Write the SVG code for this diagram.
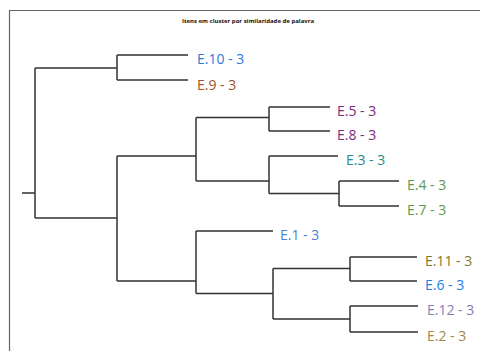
<svg xmlns="http://www.w3.org/2000/svg" width="480" height="351" viewBox="0 0 480 351">
<style>
.frame{fill:none;stroke:#666;stroke-width:1.2}
.ln{fill:none;stroke:#333;stroke-width:1.5}
.lbl{font-family:"Open Sans","Noto Sans",sans-serif;font-size:14px}
.title{font-family:"Open Sans","Liberation Sans",sans-serif;font-size:6px;font-weight:bold;fill:#111}
</style>
<rect width="480" height="351" fill="#fff"/>
<path class="frame" d="M9.5,351 V10.5 H480"/>
<text class="title" x="248" y="23" text-anchor="middle">Itens em cluster por similaridade de palavra</text>
<g id="connectors">
<path class="ln" d="M22,193 H35 M35,68 V218 M35,68 H117 M117,55 V80 M117,55 H188 M117,80 H188"/>
<path class="ln" d="M35,218 H117 M117,156 V281 M117,156 H196 M196,117.5 V181 M196,117.5 H269 M269,107 V131 M269,107 H330 M269,131 H330"/>
<path class="ln" d="M196,181 H269 M269,156 V193.5 M269,156 H338 M269,193.5 H339 M339,181 V206 M339,181 H399 M339,206 H399"/>
<path class="ln" d="M117,281 H196 M196,231 V293.5 M196,231 H273 M196,293.5 H273 M273,268.5 V319 M273,268.5 H350 M273,319 H350"/>
<path class="ln" d="M350,257 V281 M350,257 H417 M350,281 H417 M350,306 V332 M350,306 H418 M350,332 H418"/>
</g>
<g id="n-e10"><text class="lbl" x="197" y="64" fill="#2a7ad8">E.10 - 3</text></g>
<g id="n-e9"><text class="lbl" x="197" y="90" fill="#a0522d">E.9 - 3</text></g>
<g id="n-e5"><text class="lbl" x="337" y="116" fill="#7a2a7a">E.5 - 3</text></g>
<g id="n-e8"><text class="lbl" x="337" y="140" fill="#7a2a7a">E.8 - 3</text></g>
<g id="n-e3"><text class="lbl" x="346" y="165" fill="#2a8a8a">E.3 - 3</text></g>
<g id="n-e4"><text class="lbl" x="407" y="190" fill="#5a9a50">E.4 - 3</text></g>
<g id="n-e7"><text class="lbl" x="407" y="215" fill="#5a9a50">E.7 - 3</text></g>
<g id="n-e1"><text class="lbl" x="280" y="240" fill="#4a80d8">E.1 - 3</text></g>
<g id="n-e11"><text class="lbl" x="425" y="266" fill="#7a7a30">E.11 - 3</text></g>
<g id="n-e6"><text class="lbl" x="425" y="290" fill="#1a80e8">E.6 - 3</text></g>
<g id="n-e12"><text class="lbl" x="427" y="315" fill="#8080b8">E.12 - 3</text></g>
<g id="n-e2"><text class="lbl" x="427" y="341" fill="#a08850">E.2 - 3</text></g>
</svg>
